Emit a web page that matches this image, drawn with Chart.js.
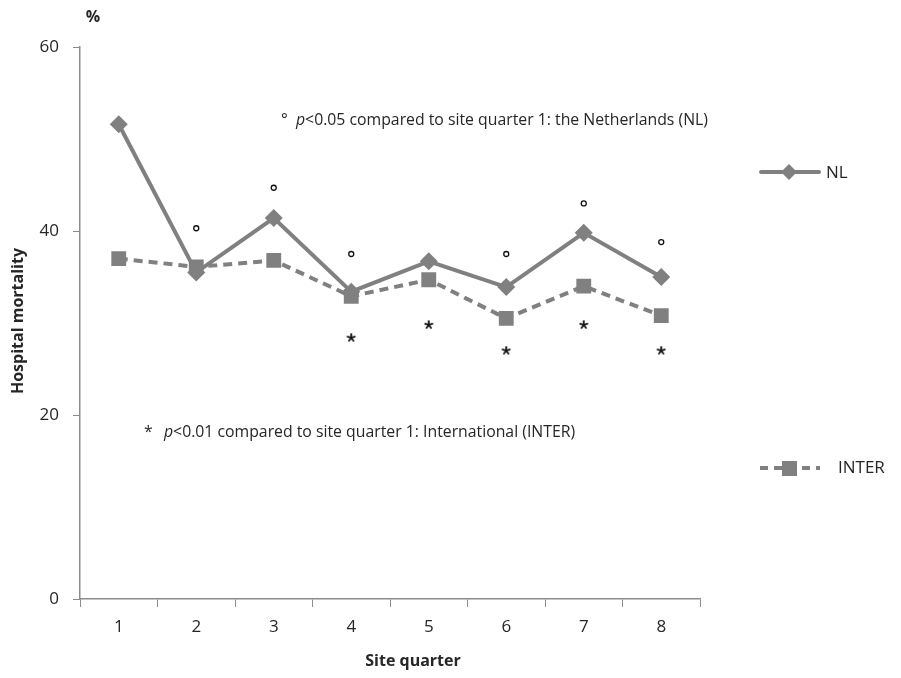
<!DOCTYPE html>
<html lang="en">
<head>
<meta charset="UTF-8">
<title>Hospital mortality by site quarter</title>
<script src="https://cdn.jsdelivr.net/npm/chart.js"></script>
<style>
  body { margin: 0; background: #fff; }
  #wrap { width: 901px; height: 678px; }
</style>
</head>
<body>
<div id="wrap"><canvas id="chart" width="901" height="678"></canvas></div>
<script>
// data
const quarters = ['1', '2', '3', '4', '5', '6', '7', '8'];
const nlValues = [51.6, 35.5, 41.4, 33.4, 36.7, 33.9, 39.8, 35.0];
const interValues = [37.0, 36.1, 36.8, 32.9, 34.7, 30.5, 34.0, 30.8];
// significance markers (placed just above / below the points)
const nlSignif = [null, 40.3, 44.7, 37.5, null, 37.5, 43.0, 38.8];
const interSignif = [null, null, null, 28.4, 29.8, 27.0, 29.8, 27.0];
const yTicks = [0, 20, 40, 60];

const grey = '#808080';
const textCol = '#262626';
const font = '"Open Sans", "DejaVu Sans", sans-serif';

// small 5-armed asterisk used as point style for the INTER markers
const asterisk = document.createElement('canvas');
asterisk.width = 10;
asterisk.height = 10;
(function () {
  const c = asterisk.getContext('2d');
  c.strokeStyle = '#111';
  c.lineWidth = 1.8;
  c.lineCap = 'round';
  for (let i = 0; i < 5; i++) {
    const a = -Math.PI / 2 + i * 2 * Math.PI / 5;
    c.beginPath();
    c.moveTo(5, 5);
    c.lineTo(5 + Math.cos(a) * 3.8, 5 + Math.sin(a) * 3.8);
    c.stroke();
  }
})();

// draws legend, axis titles and footnote text
const extras = {
  id: 'extras',
  afterDraw(chart) {
    const ctx = chart.ctx;
    ctx.save();

    // legend NL
    ctx.strokeStyle = grey;
    ctx.lineWidth = 4;
    ctx.lineCap = 'round';
    ctx.beginPath(); ctx.moveTo(761, 172); ctx.lineTo(819, 172); ctx.stroke();
    ctx.fillStyle = grey;
    ctx.beginPath();
    ctx.moveTo(789, 164); ctx.lineTo(797, 172); ctx.lineTo(789, 180); ctx.lineTo(781, 172);
    ctx.closePath(); ctx.fill();
    // legend INTER
    ctx.lineCap = 'butt';
    ctx.setLineDash([8, 6]);
    ctx.beginPath(); ctx.moveTo(760, 468); ctx.lineTo(820, 468); ctx.stroke();
    ctx.setLineDash([]);
    ctx.fillRect(782, 461, 15, 15);

    ctx.fillStyle = textCol;
    ctx.textBaseline = 'middle';
    ctx.textAlign = 'left';
    ctx.font = '17px ' + font;
    ctx.fillText('NL', 826, 173);
    ctx.fillText('INTER', 838, 468);

    // axis titles
    ctx.font = 'bold 16px ' + font;
    ctx.textAlign = 'center';
    ctx.fillText('Site quarter', 413, 661);
    ctx.fillText('%', 93, 17);
    ctx.save();
    ctx.translate(18, 321);
    ctx.rotate(-Math.PI / 2);
    ctx.fillText('Hospital mortality', 0, 0);
    ctx.restore();

    // footnotes
    ctx.textAlign = 'left';
    const note = (x, px, y, sym, rest) => {
      ctx.font = '15.8px ' + font;
      ctx.fillText(sym, x, y);
      ctx.font = 'italic 15.8px ' + font;
      ctx.fillText('p', px, y);
      px += ctx.measureText('p').width;
      ctx.font = '15.8px ' + font;
      ctx.fillText(rest, px, y);
    };
    note(281, 296, 120, '°', '<0.05 compared to site quarter 1: the Netherlands (NL)');
    note(144, 164, 432, '*', '<0.01 compared to site quarter 1: International (INTER)');

    ctx.restore();
  }
};

new Chart(document.getElementById('chart'), {
  type: 'line',
  data: {
    labels: quarters,
    datasets: [
      {
        label: 'NL',
        data: nlValues,
        borderColor: grey,
        backgroundColor: grey,
        borderWidth: 4,
        pointStyle: 'rectRot',
        pointRadius: 9,
        pointBorderWidth: 0,
        tension: 0
      },
      {
        label: 'INTER',
        data: interValues,
        borderColor: grey,
        backgroundColor: grey,
        borderWidth: 4,
        borderDash: [9, 6],
        pointStyle: 'rect',
        pointRadius: 10.5,
        pointBorderWidth: 0,
        tension: 0
      },
      {
        label: 'NL sig',
        data: nlSignif,
        showLine: false,
        pointStyle: 'circle',
        pointRadius: 2.5,
        pointBorderWidth: 1.3,
        borderColor: '#111',
        backgroundColor: '#fff'
      },
      {
        label: 'INTER sig',
        data: interSignif,
        showLine: false,
        pointStyle: asterisk,
        pointRadius: 4,
        borderColor: '#111',
        backgroundColor: '#111'
      }
    ]
  },
  options: {
    responsive: false,
    animation: false,
    layout: { padding: { top: 47, right: 201, left: 0, bottom: 0 } },
    plugins: {
      legend: { display: false },
      tooltip: { enabled: false }
    },
    scales: {
      x: {
        offset: true,
        grid: { offset: true, drawOnChartArea: false, drawTicks: true, tickLength: 8, color: '#8c8c8c' },
        border: { color: '#8c8c8c', width: 1.5 },
        ticks: { color: textCol, font: { size: 17, family: font }, padding: 10 },
        afterFit(scale) { scale.height = 79; }
      },
      y: {
        min: 0,
        max: 60,
        afterBuildTicks(scale) { scale.ticks = yTicks.map(v => ({ value: v })); },
        grid: { drawOnChartArea: false, drawTicks: true, tickLength: 7, color: '#8c8c8c' },
        border: { color: '#8c8c8c', width: 1.5 },
        ticks: { color: textCol, font: { size: 17, family: font }, padding: 14 },
        afterFit(scale) { scale.width = 80; }
      }
    }
  },
  plugins: [extras]
});
</script>
</body>
</html>
